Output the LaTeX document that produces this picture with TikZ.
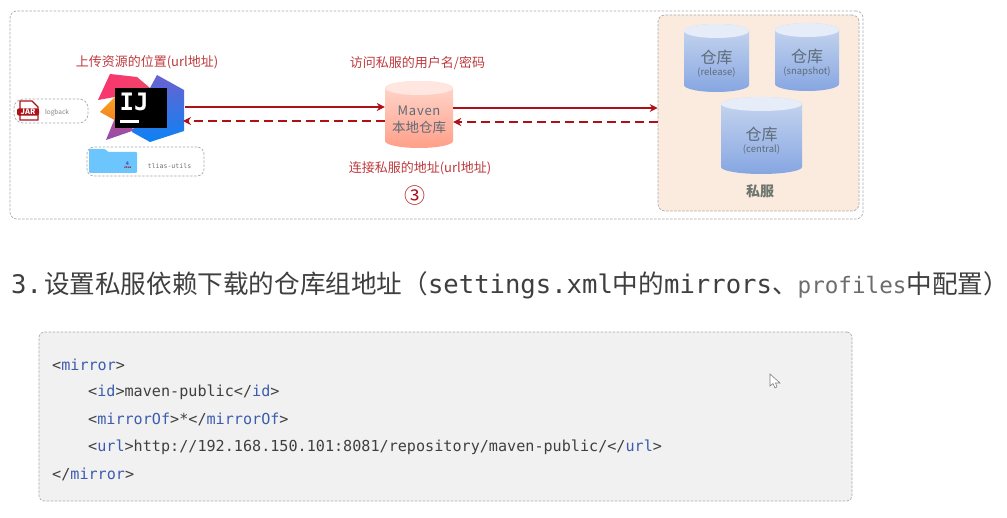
\documentclass[tikz,border=0pt]{standalone}
\usepackage{fontspec}
\setmainfont{Noto Sans CJK SC}
\setsansfont{Noto Sans CJK SC}
\newfontfamily\cjkfont{Noto Sans CJK SC}
\newfontfamily\codefont{DejaVu Sans Mono}
\newfontfamily\spacedfont[LetterSpace=6]{Noto Sans CJK SC}
\usetikzlibrary{calc, positioning, arrows.meta}
\definecolor{arrowRed}{HTML}{AD1015}
\definecolor{labelRed}{HTML}{BE3A3E}
\definecolor{lineGrey}{HTML}{ABABAB}
\definecolor{inkGrey}{HTML}{3F3F3F}
\definecolor{repoInk}{HTML}{5E6B78}
\definecolor{sifuInk}{HTML}{6E7670}
\definecolor{tagBlue}{HTML}{3C5CAE}
\definecolor{zonePeach}{HTML}{FBEBDE}
\definecolor{codeGrey}{HTML}{F1F1F1}
\definecolor{repoTop}{HTML}{C9D7EF}
\definecolor{repoBot}{HTML}{86A6E2}
\definecolor{repoCap}{HTML}{E6ECF8}
\definecolor{mavenTop}{HTML}{FFD9CF}
\definecolor{mavenBot}{HTML}{FF9F89}
\definecolor{mavenCap}{HTML}{FFE6E0}
\definecolor{logoPink}{HTML}{F9356F}
\definecolor{logoPinkB}{HTML}{F0446A}
\definecolor{logoOrange}{HTML}{F9A51E}
\definecolor{logoOrangeB}{HTML}{F47F24}
\definecolor{logoPurple}{HTML}{C0508F}
\definecolor{logoPurpleB}{HTML}{8C4BAE}
\definecolor{logoBlue}{HTML}{6A62D0}
\definecolor{logoBlueB}{HTML}{0C82F4}
\definecolor{folderBlue}{HTML}{6CC6FD}
\newcommand{\fsz}[1]{\fontsize{#1}{#1}\selectfont}
\newcommand{\tg}[1]{\textcolor{tagBlue}{#1}}
\tikzset{
  zone/.style    = {draw=lineGrey, dashed, dash pattern=on 2.5pt off 1.5pt, line width=0.7pt, rounded corners=7pt},
  lbl/.style     = {text=labelRed, font=\fsz{13}, inner sep=0pt},
  repolbl/.style = {text=repoInk, align=center, inner sep=0pt, yshift=-5.5pt},
  codeln/.style  = {anchor=west, text=inkGrey, font=\codefont\fsz{15.13}, inner sep=0pt},
  fl/.style      = {-{Stealth[length=8pt,width=8pt]}, draw=arrowRed, line width=2.4pt},
  fld/.style     = {-{Stealth[length=8pt,width=8pt]}, draw=arrowRed, line width=2.6pt, dash pattern=on 9pt off 5pt}
}
% name, centre x, centre y, width, height, top colour, bottom colour, cap colour, text
\newcommand{\drum}[9]{
  \shade[top color=#6, bottom color=#7]
    (#2-#4/2,#3-#5/2+7) -- (#2-#4/2,#3+#5/2-7)
    arc[start angle=180, end angle=0, x radius=#4/2, y radius=7]
    -- (#2+#4/2,#3-#5/2+7) arc[start angle=0, end angle=-180, x radius=#4/2, y radius=7] -- cycle;
  \fill[#8] (#2,#3-#5/2+7) ellipse[x radius=#4/2, y radius=7];
  \node[repolbl, minimum width=#4*1pt, minimum height=#5*1pt] (#1) at (#2,#3) {#9};
}
\begin{document}
\begin{tikzpicture}[x=1pt, y=-1pt]
  \useasboundingbox (0,0) rectangle (1007,518);
  \fill[white] (0,0) rectangle (1007,518);

  % top frame and private server zone
  \node[zone, minimum width=853pt, minimum height=208pt] (frame) at (436.5,115) {};
  \node[zone, fill=zonePeach, minimum width=201pt, minimum height=196pt] (sifu) at (758.5,113) {};
  \node[text=sifuInk, font=\fsz{14}\bfseries, inner sep=0pt] (sifuLbl) at (760,191) {私服};

  \drum{release}{716.5}{58}{65}{68}{repoTop}{repoBot}{repoCap}{\fsz{16}仓库\\\fsz{9.5}(release)}
  \drum{snapshot}{807}{57}{64}{68}{repoTop}{repoBot}{repoCap}{\fsz{16}仓库\\\fsz{9.5}(snapshot)}
  \drum{central}{761.5}{135.5}{81}{77}{repoTop}{repoBot}{repoCap}{\fsz{16}仓库\\\fsz{9.5}(central)}
  \drum{maven}{419}{114.5}{68}{67}{mavenTop}{mavenBot}{mavenCap}{\spacedfont\fsz{13}Maven\\[5pt]\cjkfont\fsz{13.5}本地仓库}

  % idea logo
  \shade[left color=logoPink, right color=logoPinkB] (110,74) -- (137,77) -- (150,88) -- (115,97) -- (98,100) -- cycle;
  \shade[top color=logoOrange, bottom color=logoOrangeB] (100,112) -- (115,97) -- (118,122) -- cycle;
  \shade[top color=logoPurple, bottom color=logoPurpleB] (115,118) -- (106,140) -- (135,130) -- cycle;
  \shade[top color=logoBlue, bottom color=logoBlueB] (157,75) -- (184,90) -- (184,131) -- (150,142) -- (132,132) -- (150,88) -- cycle;
  \node[fill=black, minimum width=52pt, minimum height=40pt, inner sep=0pt] (idea) at (141,108) {};
  \node[text=white, font=\codefont\bfseries\fsz{24}, inner sep=0pt] (ideaTxt) at (134,102) {IJ};
  \fill[white] (120,120) rectangle (139,123);
  \coordinate (ideaUp) at (185,107);
  \coordinate (ideaDn) at (183,121);

  % uploaded artefacts
  \node[zone, rounded corners=9pt, minimum width=74pt, minimum height=24pt] (logbackBox) at (51,111) {};
  \node[text=gray, font=\fsz{6.5}, inner sep=0pt] (logback) at (57,113) {logback};
  \filldraw[draw=arrowRed, fill=white, line width=1.2pt] (20,101) -- (32,101) -- (38,107) -- (38,120) -- (20,120) -- cycle;
  \node[fill=arrowRed, text=white, rounded corners=2pt, font=\bfseries\fsz{7.5}, inner sep=0.8pt, minimum width=22pt] (jar) at (28,112) {JAR};
  \node[zone, minimum width=117pt, minimum height=29pt] (tliasBox) at (145.5,161.5) {};
  \fill[folderBlue] (89,173) -- (89,149) [rounded corners=1pt] -- (105,149) -- (108,152) -- (137,152) -- (137,173) -- cycle;
  \node[text=arrowRed, font=\bfseries\fsz{3}, inner sep=0pt] (javaTxt) at (127.5,167.5) {Java};
  \node[text=tagBlue, font=\bfseries\fsz{5}, inner sep=0pt, above=0.5pt of javaTxt] (javaCup) {4};
  \node[text=gray!90!black, font=\codefont\fsz{6.6}, inner sep=0pt] (tlias) at (169.5,166) {tlias-utils};

  % red captions
  \node[lbl] (lblUp) at (147,62.5) {上传资源的位置(url地址)};
  \node[lbl] (lblUser) at (417.5,63.5) {访问私服的用户名/密码};
  \node[lbl] (lblAddr) at (420,168) {连接私服的地址(url地址)};
  \node[text=arrowRed, font=\cjkfont\fsz{21}, inner sep=0pt, below=11pt of lblAddr, xshift=-5pt] (numThree) {③};

  % connectors
  \draw[fl] (ideaUp) -- (ideaUp -| maven.west);
  \draw[fld] (ideaDn -| maven.west) -- (ideaDn);
  \coordinate (sifuUp) at ($(sifu.west)+(0,-5)$);
  \coordinate (sifuDn) at ($(sifu.west)+(0,9)$);
  \draw[fl] (sifuUp -| maven.east) -- (sifuUp);
  \draw[fld] (sifuDn) -- (sifuDn -| maven.east);

  % heading
  \node[anchor=west, text=inkGrey, inner sep=0pt, font=\fsz{25.6}] (heading) at (11,285)
    {\codefont 3.\hspace{2pt}\cjkfont 设置私服依赖下载的仓库组地址（\codefont settings.xml\cjkfont 中的\codefont mirrors\cjkfont 、\textcolor{gray!85!black}{\codefont\fsz{22.6}profiles}中配置）\hspace{-9pt}};

  % code block
  \node[zone, draw=lineGrey, fill=codeGrey, rounded corners=5pt, minimum width=813pt, minimum height=169pt] (codeBox) at (445.5,416.5) {};
  \node[codeln] (ln1) at (52,364.5) {<\tg{mirror}>};
  \node[codeln] (ln2) at (88,392) {<\tg{id}>maven-public</\tg{id}>};
  \node[codeln] (ln3) at (88,419.5) {<\tg{mirrorOf}>*</\tg{mirrorOf}>};
  \node[codeln] (ln4) at (88,447) {<\tg{url}>http://192.168.150.101:8081/repository/maven-public/</\tg{url}>};
  \node[codeln] (ln5) at (52,474.5) {</\tg{mirror}>};

  % mouse cursor
  \filldraw[draw=gray, fill=white, line width=0.6pt] (770,374) -- (770,386) -- (773,383.5) -- (775,388) -- (777,387) -- (775.5,383) -- (780,383) -- cycle;
\end{tikzpicture}
\end{document}
